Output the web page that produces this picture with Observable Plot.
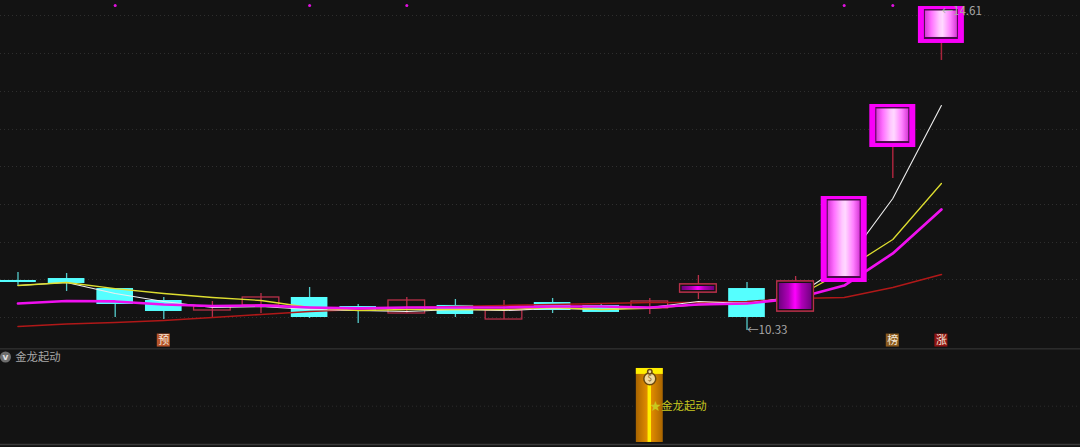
<!DOCTYPE html>
<html><head><meta charset="utf-8">
<script src="https://cdn.jsdelivr.net/npm/d3@7"></script>
<script src="https://cdn.jsdelivr.net/npm/@observablehq/plot@0.6"></script>
<style>
html,body{margin:0;padding:0;background:#131313;overflow:hidden}
svg{display:block}
</style></head><body><div id="chart"></div>
<script>
const FONT = '"Noto Sans CJK SC","Noto Sans",sans-serif';
const highs  = [11.10,11.088,10.888,10.769,10.716,10.822,10.902,10.676,10.769,10.742,10.729,10.756,10.689,10.756,11.061,10.968,11.048,12.111,13.334,14.636];
const lows   = [10.928,10.849,10.503,10.476,10.503,10.556,10.49,10.423,10.556,10.503,10.476,10.556,10.57,10.543,10.742,10.33,10.583,10.968,12.35,13.919];
const opens  = [10.995,11.021,10.888,10.729,10.596,10.663,10.769,10.649,10.556,10.663,10.476,10.702,10.663,10.623,10.835,10.888,10.583,10.968,12.762,14.145];
const closes = [10.968,10.955,10.676,10.583,10.649,10.769,10.503,10.583,10.729,10.543,10.596,10.596,10.57,10.716,10.942,10.503,10.981,12.111,13.334,14.636];
const ma5  = [10.928,10.968,10.822,10.716,10.636,10.649,10.609,10.596,10.583,10.609,10.596,10.623,10.609,10.636,10.716,10.689,10.782,11.207,12.085,13.321];
const ma10 = [10.928,10.968,10.888,10.822,10.769,10.729,10.636,10.596,10.609,10.609,10.609,10.636,10.609,10.623,10.676,10.689,10.769,11.128,11.54,12.284];
const ma20 = [10.689,10.722,10.716,10.676,10.656,10.663,10.636,10.623,10.636,10.636,10.636,10.649,10.649,10.636,10.676,10.689,10.756,10.928,11.354,11.938];
const ma60 = [10.383,10.416,10.437,10.463,10.503,10.543,10.583,10.609,10.636,10.649,10.663,10.676,10.689,10.702,10.702,10.716,10.756,10.769,10.902,11.074];
const gridPrices = [14.517,14.012,13.507,13.002,12.51,12.005,11.5,11.008,10.503];
const signalDays = [2,6,8,17,18];
const purpleDays = [14,16];
const frameDays = [17,18,19];
const badges = [{i:3,t:"预",c:"#b5532a"},{i:18,t:"榜",c:"#8a5a1e"},{i:19,t:"涨",c:"#8f1414"}];
const lowLabel = {i:15,p:10.33,t:"←10.33"};
const highLabel = {i:19,p:14.57,t:"←14.61"};
const panelTitle = "金龙起动";
const signalDay = 13;
const signalLabel = "★金龙起动";

const days = highs.map((h,i)=>({i,high:h,low:lows[i],open:opens[i],close:closes[i],
  top:Math.max(opens[i],closes[i]),bot:Math.min(opens[i],closes[i])}));
const normal = days.filter(d=>!frameDays.includes(d.i));
const down = normal.filter(d=>d.close<d.open);
const up = normal.filter(d=>d.close>=d.open);
const framed = days.filter(d=>frameDays.includes(d.i));
const purple = days.filter(d=>purpleDays.includes(d.i));
const series = a=>a.map((v,i)=>({i,v}));
const xDomain=[-0.36,21.862];
const HALF=0.377, FRAME=0.473;

function defs(){
  const make=(id,stops)=>`<linearGradient id="${id}" x1="0" x2="1" y1="0" y2="0">`+
    stops.map(([o,c])=>`<stop offset="${o}" stop-color="${c}"/>`).join("")+`</linearGradient>`;
  const g=document.createElementNS("http://www.w3.org/2000/svg","defs");
  g.innerHTML=make("pink",[[0,"#d838d8"],[.2,"#ff70ff"],[.45,"#ffc8ff"],[.55,"#ffd8ff"],[.8,"#ff80ff"],[1,"#d838d8"]])+
    make("purple",[[0,"#700080"],[.3,"#b000b8"],[.5,"#ff00ff"],[.7,"#b000b8"],[1,"#700080"]])+
    make("gold",[[0,"#a86400"],[.42,"#e08c00"],[.45,"#ffee00"],[.55,"#ffee00"],[.58,"#e08c00"],[1,"#a86400"]]);
  return g;
}

const upperPanel = Plot.plot({
  width:1080,height:348,margin:0,
  x:{domain:xDomain,range:[0,1080],axis:null},
  y:{domain:[10.091,14.716],range:[348,0],axis:null},
  style:{background:"#131313"},
  marks:[
    defs,
    Plot.ruleY(gridPrices,{stroke:"#303030",strokeWidth:1,strokeDasharray:"1,3"}),
    Plot.dot(signalDays,{x:d=>d,y:()=>14.65,r:1.5,fill:"#e010e0"}),
    Plot.ruleX(down,{x:"i",y1:"low",y2:"high",stroke:"#55cccc",strokeWidth:1.3}),
    Plot.ruleX(up,{x:"i",y1:"low",y2:"high",stroke:"#b8304a",strokeWidth:1.3}),
    Plot.rect(down,{x1:d=>d.i-HALF,x2:d=>d.i+HALF,y1:"bot",y2:"top",fill:"#55ffff"}),
    Plot.rect(up,{x1:d=>d.i-HALF,x2:d=>d.i+HALF,y1:"bot",y2:"top",fill:"none",stroke:"#b8304a",strokeWidth:1.3}),
    Plot.line(series(ma60),{x:"i",y:"v",stroke:"#b01818",strokeWidth:1.6}),
    Plot.line(series(ma5),{x:"i",y:"v",stroke:"#eeeeee",strokeWidth:1.1}),
    Plot.line(series(ma10),{x:"i",y:"v",stroke:"#dede30",strokeWidth:1.3}),
    Plot.line(series(ma20),{x:"i",y:"v",stroke:"#f010f0",strokeWidth:2.7}),
    Plot.ruleX(framed,{x:"i",y1:"low",y2:"high",stroke:"#a8243c",strokeWidth:1.5}),
    Plot.rect(purple,{x1:d=>d.i-HALF,x2:d=>d.i+HALF,y1:"bot",y2:"top",fill:"#131313",stroke:"#b8304a",strokeWidth:1.3}),
    Plot.rect(purple,{x1:d=>d.i-HALF,x2:d=>d.i+HALF,y1:"bot",y2:"top",fill:"url(#purple)",inset:2}),
    Plot.rect(framed,{x1:d=>d.i-FRAME,x2:d=>d.i+FRAME,y1:"bot",y2:"top",fill:"#fa00fa"}),
    Plot.rect(framed,{x1:d=>d.i-FRAME,x2:d=>d.i+FRAME,y1:"bot",y2:"top",fill:"#4a0a4a",insetLeft:6,insetRight:6,insetTop:3,insetBottom:4}),
    Plot.rect(framed,{x1:d=>d.i-FRAME,x2:d=>d.i+FRAME,y1:"bot",y2:"top",fill:"url(#pink)",insetLeft:7,insetRight:7,insetTop:4.5,insetBottom:6}),
    Plot.text([lowLabel,highLabel],{x:"i",y:"p",text:"t",textAnchor:"start",fill:"#a8a8a8",fontSize:11.6,fontFamily:FONT}),
    Plot.rect(badges,{x1:d=>d.i-0.134,x2:d=>d.i+0.134,y1:()=>10.11,y2:()=>10.283,fill:"c"}),
    Plot.text(badges,{x:"i",y:()=>10.197,text:"t",fill:"#f4e8d8",fontSize:11,fontFamily:FONT})
  ]
});

const lowerPanel = Plot.plot({
  width:1080,height:99,margin:0,
  x:{domain:xDomain,range:[0,1080],axis:null},
  y:{domain:[-0.068,1.27],range:[99,0],axis:null},
  style:{background:"#131313"},
  marks:[
    Plot.ruleY([1.265],{stroke:"#3a3a3a",strokeWidth:1}),
    Plot.ruleY([-0.027],{stroke:"#3a3a3a",strokeWidth:1.5}),
    Plot.ruleY([0.49],{stroke:"#2c2c2c",strokeDasharray:"1,3"}),
    Plot.dot([0],{x:()=>-0.257,y:()=>1.155,r:5.5,fill:"#6e6e6e"}),
    Plot.text(["v"],{x:()=>-0.257,y:()=>1.16,text:d=>d,fill:"#e0e0e0",fontSize:9,fontWeight:"bold",fontFamily:"DejaVu Sans"}),
    Plot.text([panelTitle],{x:()=>-0.055,y:()=>1.155,text:d=>d,textAnchor:"start",fill:"#a8a8a8",fontSize:11.3,fontFamily:FONT}),
    Plot.rect([signalDay],{x1:d=>d-0.277,x2:d=>d+0.277,y1:()=>0,y2:()=>1,fill:"url(#gold)"}),
    Plot.rect([signalDay],{x1:d=>d-0.277,x2:d=>d+0.277,y1:()=>0.92,y2:()=>1,fill:"#ffee00"}),
    Plot.dot([signalDay],{x:d=>d,y:()=>0.86,r:6,fill:"#f0d8a0",stroke:"#6a4a10"}),
    Plot.dot([signalDay],{x:d=>d,y:()=>0.955,r:2.2,fill:"#f0d8a0",stroke:"#6a4a10"}),
    Plot.text([signalDay],{x:d=>d,y:()=>0.86,text:()=>"$",fill:"#7a5a20",fontSize:8,fontFamily:FONT}),
    Plot.text([signalLabel],{x:()=>signalDay,y:()=>0.49,text:d=>d,textAnchor:"start",fill:"#c8c820",fontSize:11.4,fontFamily:FONT})
  ]
});
document.getElementById("chart").append(upperPanel,lowerPanel);
</script></body></html>
